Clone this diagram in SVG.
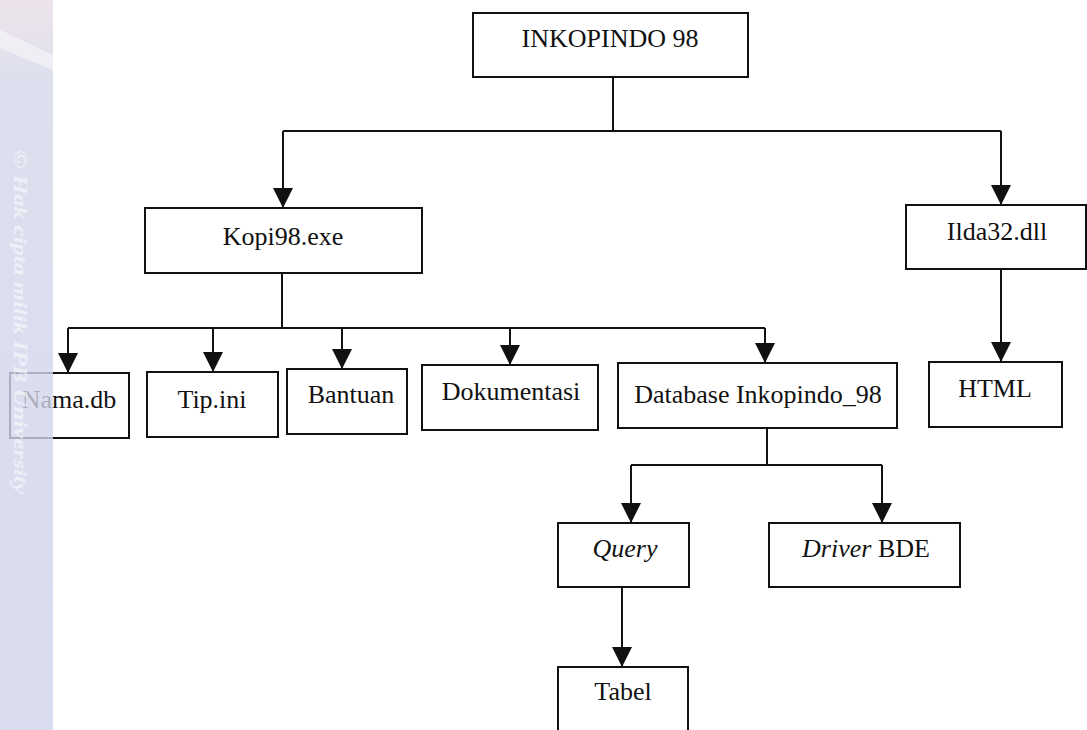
<svg xmlns="http://www.w3.org/2000/svg" width="1087" height="730" viewBox="0 0 1087 730">
  <defs>
    <style>
      .box { fill: #ffffff; stroke: #111111; stroke-width: 2; }
      .lbl { font-family: "Liberation Serif", "Times New Roman", serif; font-size: 26px; fill: #111111; text-anchor: middle; }
      .it { font-style: italic; }
      .wire { fill: none; stroke: #111111; stroke-width: 2; }
      .wm { font-family: "Liberation Serif", serif; font-size: 19px; font-weight: bold; font-style: italic; fill: #ffffff; fill-opacity: 0.55; }
    </style>
    <marker id="arrow" markerUnits="userSpaceOnUse" markerWidth="22" markerHeight="22" viewBox="0 0 20 20" refX="10" refY="20" orient="auto-start-reverse">
      <path d="M0,0 L20,0 L10,20 Z" fill="#111111" transform="rotate(-90 10 10)"/>
    </marker>
    <marker id="tri" markerUnits="userSpaceOnUse" markerWidth="20" markerHeight="20" viewBox="0 0 20 20" refX="20" refY="10" orient="auto">
      <path d="M0,0 L20,10 L0,20 Z" fill="#111111"/>
    </marker>
    <linearGradient id="stripGrad" x1="0" y1="0" x2="0" y2="1">
      <stop offset="0" stop-color="#e8dde6"/>
      <stop offset="0.12" stop-color="#d4d7ea"/>
      <stop offset="1" stop-color="#d0d4ea"/>
    </linearGradient>
  </defs>

  <rect x="0" y="0" width="1087" height="730" fill="#ffffff"/>

  <g id="connectors">
    <path class="wire" d="M613,77 V131"/>
    <path class="wire" d="M283,131 H1001"/>
    <path class="wire" d="M283,131 V208" marker-end="url(#tri)"/>
    <path class="wire" d="M1001,131 V205" marker-end="url(#tri)"/>

    <path class="wire" d="M282,273 V328"/>
    <path class="wire" d="M68,328 H765"/>
    <path class="wire" d="M68,328 V373" marker-end="url(#tri)"/>
    <path class="wire" d="M213,328 V372" marker-end="url(#tri)"/>
    <path class="wire" d="M342,328 V369" marker-end="url(#tri)"/>
    <path class="wire" d="M510,328 V365" marker-end="url(#tri)"/>
    <path class="wire" d="M765,328 V363" marker-end="url(#tri)"/>

    <path class="wire" d="M1001,269 V362" marker-end="url(#tri)"/>

    <path class="wire" d="M767,428 V465"/>
    <path class="wire" d="M631,465 H882"/>
    <path class="wire" d="M631,465 V523" marker-end="url(#tri)"/>
    <path class="wire" d="M882,465 V523" marker-end="url(#tri)"/>

    <path class="wire" d="M622,587 V667" marker-end="url(#tri)"/>
  </g>

  <g id="node-inkopindo">
    <rect class="box" x="473" y="13" width="275" height="64"/>
    <text class="lbl" x="610" y="47">INKOPINDO 98</text>
  </g>
  <g id="node-kopi98">
    <rect class="box" x="145" y="208" width="277" height="65"/>
    <text class="lbl" x="283" y="245">Kopi98.exe</text>
  </g>
  <g id="node-ilda32">
    <rect class="box" x="906" y="205" width="180" height="64"/>
    <text class="lbl" x="997" y="240">Ilda32.dll</text>
  </g>
  <g id="node-html">
    <rect class="box" x="929" y="362" width="133" height="65"/>
    <text class="lbl" x="995" y="397">HTML</text>
  </g>
  <g id="node-namadb">
    <rect class="box" x="10" y="373" width="119" height="65"/>
    <text class="lbl" x="69" y="408">Nama.db</text>
  </g>
  <g id="node-tipini">
    <rect class="box" x="147" y="372" width="131" height="65"/>
    <text class="lbl" x="212" y="408">Tip.ini</text>
  </g>
  <g id="node-bantuan">
    <rect class="box" x="287" y="369" width="120" height="65"/>
    <text class="lbl" x="351" y="403">Bantuan</text>
  </g>
  <g id="node-dokumentasi">
    <rect class="box" x="422" y="365" width="176" height="65"/>
    <text class="lbl" x="511" y="400">Dokumentasi</text>
  </g>
  <g id="node-database">
    <rect class="box" x="618" y="363" width="279" height="65"/>
    <text class="lbl" x="758" y="403">Database Inkopindo_98</text>
  </g>
  <g id="node-query">
    <rect class="box" x="558" y="523" width="131" height="64"/>
    <text class="lbl it" x="625" y="557">Query</text>
  </g>
  <g id="node-driver">
    <rect class="box" x="769" y="523" width="191" height="64"/>
    <text class="lbl" x="866" y="557"><tspan class="it">Driver</tspan> BDE</text>
  </g>
  <g id="node-tabel">
    <rect class="box" x="558" y="667" width="130" height="70"/>
    <text class="lbl" x="623" y="700">Tabel</text>
  </g>

  <g id="watermark">
    <rect x="0" y="0" width="53" height="730" fill="url(#stripGrad)" fill-opacity="0.8"/>
    <polygon points="0,30 53,55 53,70 0,48" fill="#ffffff" fill-opacity="0.45"/>
    <text class="wm" transform="translate(14,150) rotate(90)" textLength="344" lengthAdjust="spacingAndGlyphs">© Hak cipta milik IPB University</text>
  </g>
</svg>
